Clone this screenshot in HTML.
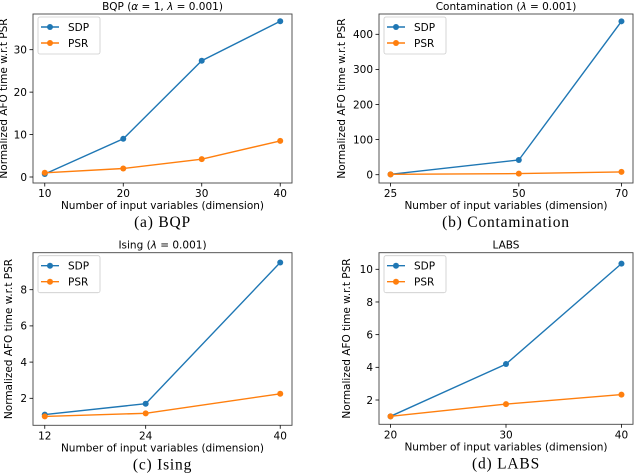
<!DOCTYPE html>
<html><head><meta charset="utf-8">
<style>
html,body{margin:0;padding:0;background:#fff;}
svg{display:block;}
text{font-family:"DejaVu Sans","Liberation Sans",sans-serif;fill:#000;}
.cap{font-family:"Liberation Serif",serif;font-size:15.5px;letter-spacing:0.8px;}
</style></head>
<body>
<svg id="fig" width="640" height="474" viewBox="0 0 640 474"></svg>
<script>
// Panel (a) BQP
const bqpDims = [10, 20, 30, 40];
const bqpSDP = [0.7, 9.0, 27.4, 36.7];
const bqpPSR = [1.0, 2.0, 4.2, 8.5];
const bqpYTicks = [0, 10, 20, 30];
// Panel (b) Contamination
const conDims = [25, 50, 70];
const conSDP = [1, 42, 437];
const conPSR = [1, 3, 8];
const conYTicks = [0, 100, 200, 300, 400];
// Panel (c) Ising
const isingDims = [12, 24, 40];
const isingSDP = [1.1, 1.7, 9.5];
const isingPSR = [1.0, 1.17, 2.25];
const isingYTicks = [2, 4, 6, 8];
// Panel (d) LABS
const labsDims = [20, 30, 40];
const labsSDP = [1.0, 4.2, 10.35];
const labsPSR = [1.0, 1.75, 2.33];
const labsYTicks = [2, 4, 6, 8, 10];

const NS = "http://www.w3.org/2000/svg";
const svg = document.getElementById('fig');
function mk(tag, attrs, parent){
  const e = document.createElementNS(NS, tag);
  for (const k in attrs) e.setAttribute(k, attrs[k]);
  (parent||svg).appendChild(e);
  return e;
}

function panel(cfg){
  const g = mk('g', {});
  
  
  const {x0,x1,y0,y1} = cfg.frame;
  const pad = (cfg.xmax - cfg.xmin) * 0.05;
  const xa = cfg.xmin - pad, xb = cfg.xmax + pad;
  const sx = v => x0 + (v - xa) / (xb - xa) * (x1 - x0);
  const sy = v => cfg.py0 + (v - cfg.v0) / (cfg.v1 - cfg.v0) * (cfg.py1 - cfg.py0);
  const t = mk('text', {x:(x0+x1)/2, y:y0-4, 'text-anchor':'middle', 'font-size':'10.5'}, g);
  t.innerHTML = cfg.title;
  
  
  const fr = mk('rect', {x:x0, y:y0, width:x1-x0, height:y1-y0, fill:'none', stroke:'#444', 'stroke-width':'0.9'}, g);
  
  
  cfg.xs.forEach(v => {
    const x = sx(v);
    mk('line', {x1:x, x2:x, y1:y1, y2:y1+3.5, stroke:'#000', 'stroke-width':'0.8'}, g);
    const tl = mk('text', {x:x, y:y1+14, 'text-anchor':'middle', 'font-size':'10.5'}, g);
    tl.textContent = v;
    
    
  });
  cfg.yt.forEach(v => {
    const y = sy(v);
    mk('line', {x1:x0-3.5, x2:x0, y1:y, y2:y, stroke:'#000', 'stroke-width':'0.8'}, g);
    const tl = mk('text', {x:x0-6, y:y+3.8, 'text-anchor':'end', 'font-size':'10.5'}, g);
    tl.textContent = v;
    
    
  });
  const xl = mk('text', {x:(x0+x1)/2, y:y1+26, 'text-anchor':'middle', 'font-size':'10.5'}, g);
  xl.textContent = 'Number of input variables (dimension)';
  
  
  const cy = (y0+y1)/2;
  const yl = mk('text', {x:cfg.ylx, y:cy, 'text-anchor':'middle', 'font-size':'10.5', transform:`rotate(-90 ${cfg.ylx} ${cy})`}, g);
  yl.textContent = 'Normalized AFO time w.r.t PSR';
  
  
  const series = [['sdp', cfg.sdp, '#1f77b4'], ['psr', cfg.psr, '#ff7f0e']];
  series.forEach(([nm, vals, col]) => {
    const pts = vals.map((v,i) => sx(cfg.xs[i]).toFixed(1) + ',' + sy(v).toFixed(1)).join(' ');
    const pl = mk('polyline', {points:pts, fill:'none', stroke:col, 'stroke-width':'1.4'}, g);
    
    
    vals.forEach((v,i) => {
      const c = mk('circle', {cx:sx(cfg.xs[i]), cy:sy(v), r:3, fill:col}, g);
      
      
    });
  });
  const lx = x0 + 5, ly = y0 + 3;
  const lg = mk('g', {}, g);
  
  
  mk('rect', {x:lx, y:ly, width:62, height:37, rx:2, fill:'#fff', stroke:'#ccc', 'stroke-width':'0.8'}, lg);
  [['SDP','#1f77b4',10],['PSR','#ff7f0e',26]].forEach(([lab,col,dy]) => {
    const le = mk('g', {}, lg);
    
    
    mk('line', {x1:lx+3, x2:lx+21, y1:ly+dy, y2:ly+dy, stroke:col, 'stroke-width':'1.4'}, le);
    mk('circle', {cx:lx+12, cy:ly+dy, r:3, fill:col}, le);
    const tx = mk('text', {x:lx+30, y:ly+dy+4, 'font-size':'10.5'}, le);
    tx.textContent = lab;
  });
  const cp = mk('text', {x:(x0+x1)/2, y:y1+44, 'text-anchor':'middle', class:'cap'}, g);
  cp.textContent = cfg.caption;
  
  
}

panel({name:'panel-bqp', frame:{x0:33,x1:292,y0:14,y1:183}, xmin:10, xmax:40, xs:bqpDims,
  sdp:bqpSDP, psr:bqpPSR, yt:bqpYTicks, v0:0, v1:30, py0:177, py1:49.7, ylx:7,
  title:'BQP (<tspan font-style="italic">α</tspan> = 1, <tspan font-style="italic">λ</tspan> = 0.001)', caption:'(a) BQP'});
panel({name:'panel-contamination', frame:{x0:379,x1:633,y0:14,y1:183}, xmin:25, xmax:70, xs:conDims,
  sdp:conSDP, psr:conPSR, yt:conYTicks, v0:0, v1:400, py0:174.7, py1:34.3, ylx:345,
  title:'Contamination (<tspan font-style="italic">λ</tspan> = 0.001)', caption:'(b) Contamination'});
panel({name:'panel-ising', frame:{x0:33,x1:292,y0:252.7,y1:425.3}, xmin:12, xmax:40, xs:isingDims,
  sdp:isingSDP, psr:isingPSR, yt:isingYTicks, v0:2, v1:8, py0:398.3, py1:289.7, ylx:12,
  title:'Ising (<tspan font-style="italic">λ</tspan> = 0.001)', caption:'(c) Ising'});
panel({name:'panel-labs', frame:{x0:379,x1:633,y0:252.7,y1:424.3}, xmin:20, xmax:40, xs:labsDims,
  sdp:labsSDP, psr:labsPSR, yt:labsYTicks, v0:2, v1:10, py0:400, py1:269.3, ylx:350,
  title:'LABS', caption:'(d) LABS'});
</script>
</body></html>
